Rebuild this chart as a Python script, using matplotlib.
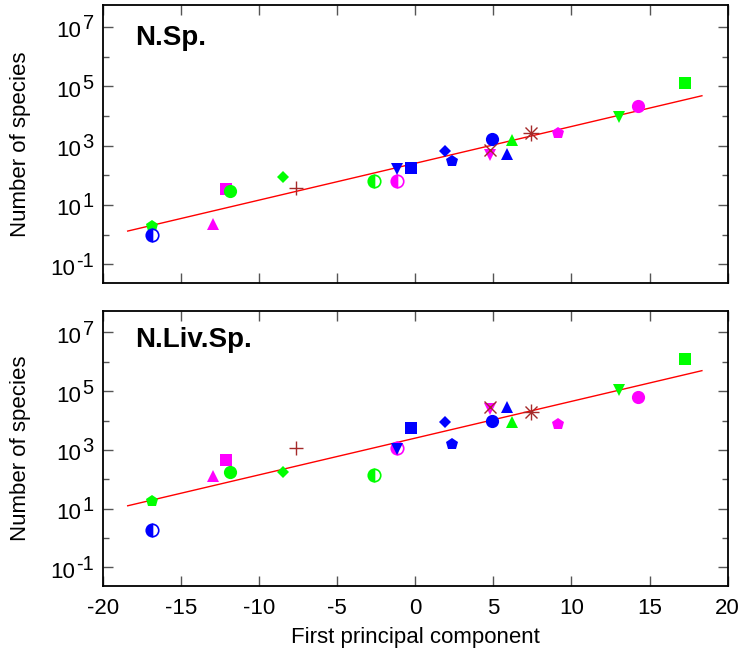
import matplotlib
matplotlib.use("Agg")
import matplotlib.pyplot as plt
from matplotlib import transforms
from matplotlib.ticker import FixedLocator, NullFormatter

plt.rcParams['font.family'] = ['Liberation Sans', 'DejaVu Sans']
plt.rcParams['axes.unicode_minus'] = False

# ---- data ----
pc1 = [-16.85, -16.85, -12.94, -12.1, -11.85, -8.46, -7.63, -2.64, -1.17, -1.17,
       -0.27, 1.91, 2.36, 4.79, 4.79, 4.92, 5.87, 6.19, 7.41, 9.14, 13.04, 14.26, 17.26]
n_sp = [1.9, 1.0, 2.3, 35, 30, 90, 38, 65, 65, 165,
        180, 680, 310, 500, 730, 1700, 540, 1500, 2600, 2750, 9500, 22000, 1.3e5]
n_liv_sp = [19, 1.9, 130, 450, 180, 180, 1150, 140, 1150, 1100,
            5500, 8700, 1600, 24000, 30000, 10000, 28000, 8700, 19000, 7400, 1.1e5, 66000, 1.26e6]
kinds = ['pent', 'half', 'tri', 'sq', 'circ', 'diam', 'plus', 'half', 'half', 'trid',
         'sq', 'diam', 'pent', 'trid', 'x', 'circ', 'tri', 'tri', 'star', 'pent', 'trid', 'circ', 'sq']
colors = ['#00ff00', '#0000ff', '#ff00ff', '#ff00ff', '#00ff00', '#00ff00', '#a52a2a', '#00ff00',
          '#ff00ff', '#0000ff', '#0000ff', '#0000ff', '#0000ff', '#ff00ff', '#a52a2a', '#0000ff',
          '#0000ff', '#00ff00', '#a52a2a', '#ff00ff', '#00ff00', '#ff00ff', '#00ff00']

fit_x = [-18.4, 18.35]
fit_top = [1.32, 4.8e4]
fit_bottom = [12.6, 5.0e5]

panel_titles = ['N.Sp.', 'N.Liv.Sp.']
x_ticks = [-20, -15, -10, -5, 0, 5, 10, 15, 20]
y_major = [1e-1, 1e1, 1e3, 1e5, 1e7]
y_exponents = ['-1', '1', '3', '5', '7']
y_minor = [1e0, 1e2, 1e4, 1e6]

marker_map = {
    'pent': dict(marker='p', ms=9),
    'half': dict(marker='o', ms=9, fillstyle='left'),
    'tri': dict(marker='^', ms=8.5),
    'trid': dict(marker='v', ms=8.5),
    'sq': dict(marker='s', ms=8.5),
    'circ': dict(marker='o', ms=9.5),
    'diam': dict(marker='D', ms=6),
}

FS = 16
W, H = 746, 662
fig = plt.figure(figsize=(W / 100, H / 100), dpi=100)
ax_top = fig.add_axes([102.7 / W, 1 - 283 / H, 625 / W, 278 / H])
ax_bot = fig.add_axes([102.7 / W, 1 - 586 / H, 625 / W, 275.3 / H])


def draw_marker(ax, x, y, kind, c):
    if kind == 'plus':
        ax.plot([x], [y], marker='+', ms=10, mew=1.0, color=c, ls='none', zorder=4)
    elif kind == 'x':
        ax.plot([x], [y], marker='x', ms=9, mew=1.0, color=c, ls='none', zorder=4)
    elif kind == 'star':
        ax.plot([x], [y], marker='+', ms=11, mew=1.0, color=c, ls='none', zorder=4)
        ax.plot([x], [y], marker='x', ms=8, mew=1.0, color=c, ls='none', zorder=4)
    else:
        st = dict(marker_map[kind])
        ms = st.pop('ms')
        if st.get('fillstyle') == 'left':
            ax.plot([x], [y], ls='none', ms=ms, markerfacecolor=c, markerfacecoloralt='white',
                    markeredgecolor=c, mew=1.2, zorder=3, **st)
        else:
            ax.plot([x], [y], ls='none', ms=ms, color=c, mew=0, zorder=3, **st)


exp_texts = []
for ax, yvals, fit, title, ty in [(ax_top, n_sp, fit_top, panel_titles[0], 0.882),
                                  (ax_bot, n_liv_sp, fit_bottom, panel_titles[1], 0.893)]:
    ax.set_yscale('log')
    ax.set_xlim(-20, 20)
    ax.set_ylim(10 ** -1.63, 10 ** 7.74)
    ax.plot(fit_x, fit, color='#ff0000', lw=1.0, zorder=2)
    for x, y, k, c in zip(pc1, yvals, kinds, colors):
        draw_marker(ax, x, y, k, c)
    ax.yaxis.set_major_locator(FixedLocator(y_major))
    ax.yaxis.set_major_formatter(NullFormatter())
    ax.yaxis.set_minor_locator(FixedLocator(y_minor))
    ax.yaxis.set_minor_formatter(NullFormatter())
    ax.xaxis.set_major_locator(FixedLocator(x_ticks))
    ax.xaxis.set_minor_locator(FixedLocator([]))
    ax.tick_params(which='both', direction='in', top=True, right=True, color='#555555',
                   labelsize=FS, width=1.0)
    ax.tick_params(which='major', length=7, pad=9)
    ax.tick_params(which='minor', length=4)
    for s in ax.spines.values():
        s.set_linewidth(1.3)
    ax.text(-0.131, 0.5, 'Number of species', transform=ax.transAxes, rotation=90,
            ha='center', va='center', fontsize=FS)
    ax.text(0.052, ty, title, transform=ax.transAxes, fontsize=20, fontweight='bold',
            va='center', ha='left')
    blend = transforms.blended_transform_factory(ax.transAxes, ax.transData)
    for val, e in zip(y_major, y_exponents):
        tr = transforms.offset_copy(blend, fig=fig, x=-9, y=3, units='dots')
        t = ax.text(0, val, e, transform=tr, ha='right', va='center', fontsize=FS - 1.5)
        exp_texts.append((ax, blend, val, t))

ax_top.tick_params(labelbottom=False)
fig.text(415.2 / W, 1 - 637 / H, 'First principal component', ha='center', va='center',
         fontsize=FS)

fig.canvas.draw()
renderer = fig.canvas.get_renderer()
for ax, blend, val, t in exp_texts:
    w = t.get_window_extent(renderer).width
    tr = transforms.offset_copy(blend, fig=fig, x=-9 - w - 1, y=-5, units='dots')
    ax.text(0, val, '10', transform=tr, ha='right', va='center', fontsize=FS)

fig.savefig('out.png', dpi=100)
